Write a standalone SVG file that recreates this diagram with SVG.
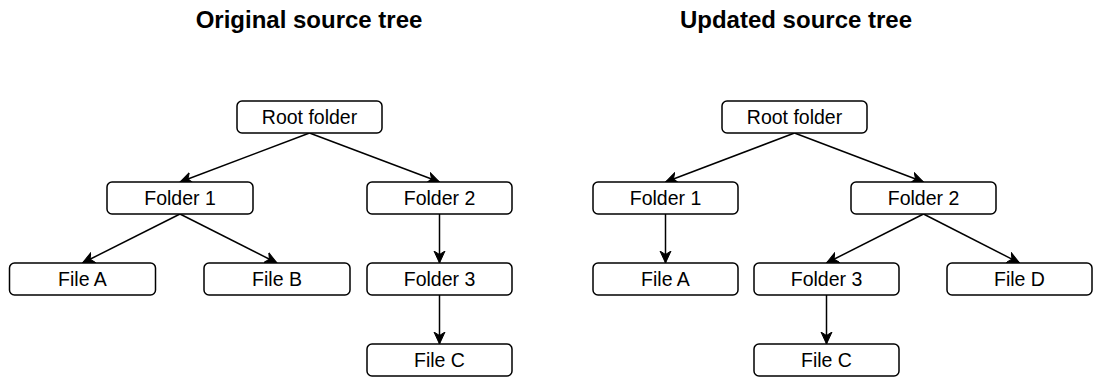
<svg xmlns="http://www.w3.org/2000/svg" width="1097" height="378" viewBox="0 0 1097 378">
<style>
.box{fill:#fff;stroke:#000;stroke-width:1.5}
.lbl{font-family:"Liberation Sans",Arial,sans-serif;font-size:19.5px;text-anchor:middle;fill:#000}
.ttl{font-family:"Liberation Sans",Arial,sans-serif;font-size:24px;font-weight:bold;text-anchor:middle;fill:#000}
.edge{fill:none;stroke:#000;stroke-width:1.5}
</style>
<defs>
<marker id="arr" markerUnits="userSpaceOnUse" viewBox="0 0 13 13" refX="12" refY="6.5" markerWidth="13" markerHeight="13" orient="auto">
<path d="M0,1 L12,6.5 L0,12 L3.5,6.5 z" fill="#000" stroke="#000" stroke-width="1"/>
</marker>
</defs>
<rect width="1097" height="378" fill="#fff"/>
<text class="ttl" x="309" y="28">Original source tree</text>
<text class="ttl" x="796" y="28">Updated source tree</text>
<g id="connectors">
<line class="edge" x1="309.5" y1="133" x2="180" y2="182" marker-end="url(#arr)"/>
<line class="edge" x1="309.5" y1="133" x2="439.5" y2="182" marker-end="url(#arr)"/>
<line class="edge" x1="180" y1="214" x2="82.5" y2="263" marker-end="url(#arr)"/>
<line class="edge" x1="180" y1="214" x2="277" y2="263" marker-end="url(#arr)"/>
<line class="edge" x1="439.5" y1="214" x2="439.5" y2="263" marker-end="url(#arr)"/>
<line class="edge" x1="439.5" y1="295" x2="439.5" y2="344" marker-end="url(#arr)"/>
<line class="edge" x1="794.5" y1="133" x2="665.5" y2="182" marker-end="url(#arr)"/>
<line class="edge" x1="794.5" y1="133" x2="923.5" y2="182" marker-end="url(#arr)"/>
<line class="edge" x1="665.5" y1="214" x2="665.5" y2="263" marker-end="url(#arr)"/>
<line class="edge" x1="923.5" y1="214" x2="826.5" y2="263" marker-end="url(#arr)"/>
<line class="edge" x1="923.5" y1="214" x2="1019.5" y2="263" marker-end="url(#arr)"/>
<line class="edge" x1="826.5" y1="295" x2="826.5" y2="344" marker-end="url(#arr)"/>
</g>
<g id="l-root"><rect class="box" x="237" y="101" width="145" height="32" rx="5"/><text class="lbl" x="309.5" y="124">Root folder</text></g>
<g id="l-folder1"><rect class="box" x="107" y="182" width="146" height="32" rx="5"/><text class="lbl" x="180" y="205">Folder 1</text></g>
<g id="l-folder2"><rect class="box" x="367" y="182" width="145" height="32" rx="5"/><text class="lbl" x="439.5" y="205">Folder 2</text></g>
<g id="l-fileA"><rect class="box" x="9.5" y="263" width="146" height="32" rx="5"/><text class="lbl" x="82.5" y="286">File A</text></g>
<g id="l-fileB"><rect class="box" x="204" y="263" width="146" height="32" rx="5"/><text class="lbl" x="277" y="286">File B</text></g>
<g id="l-folder3"><rect class="box" x="367" y="263" width="145" height="32" rx="5"/><text class="lbl" x="439.5" y="286">Folder 3</text></g>
<g id="l-fileC"><rect class="box" x="367" y="344" width="145" height="32" rx="5"/><text class="lbl" x="439.5" y="367">File C</text></g>
<g id="r-root"><rect class="box" x="722" y="101" width="145" height="32" rx="5"/><text class="lbl" x="794.5" y="124">Root folder</text></g>
<g id="r-folder1"><rect class="box" x="593" y="182" width="145" height="32" rx="5"/><text class="lbl" x="665.5" y="205">Folder 1</text></g>
<g id="r-folder2"><rect class="box" x="851" y="182" width="145" height="32" rx="5"/><text class="lbl" x="923.5" y="205">Folder 2</text></g>
<g id="r-fileA"><rect class="box" x="593" y="263" width="145" height="32" rx="5"/><text class="lbl" x="665.5" y="286">File A</text></g>
<g id="r-folder3"><rect class="box" x="754" y="263" width="145" height="32" rx="5"/><text class="lbl" x="826.5" y="286">Folder 3</text></g>
<g id="r-fileD"><rect class="box" x="947" y="263" width="145" height="32" rx="5"/><text class="lbl" x="1019.5" y="286">File D</text></g>
<g id="r-fileC"><rect class="box" x="754" y="344" width="145" height="32" rx="5"/><text class="lbl" x="826.5" y="367">File C</text></g>
</svg>
